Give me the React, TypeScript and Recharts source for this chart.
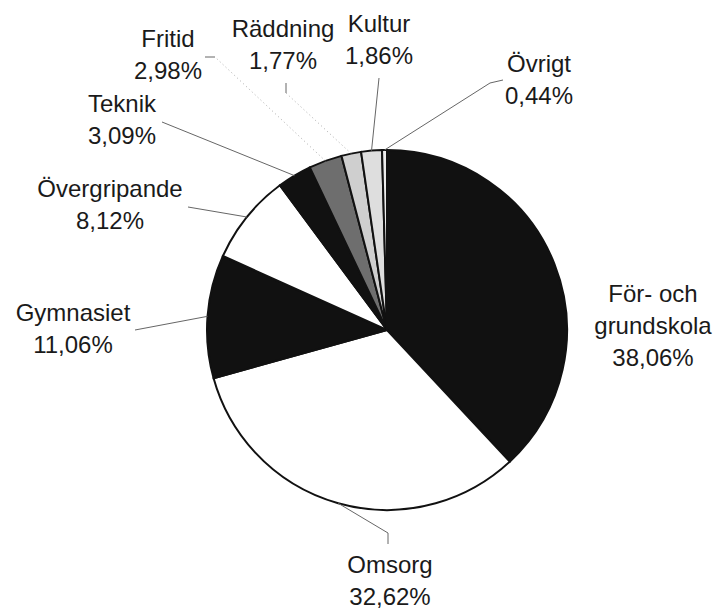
import React from 'react';
import { PieChart, Pie, Cell } from 'recharts';

const categories = [
  'För- och\ngrundskola',
  'Omsorg',
  'Gymnasiet',
  'Övergripande',
  'Teknik',
  'Fritid',
  'Räddning',
  'Kultur',
  'Övrigt',
];
const shares = [38.06, 32.62, 11.06, 8.12, 3.09, 2.98, 1.77, 1.86, 0.44];

const data = categories.map((name, i) => ({ name, value: shares[i] }));

// styling / layout
const fills = ['#111', '#fff', '#111', '#fff', '#111', '#6e6e6e', '#cfcfcf', '#dedede', '#ececec'];
const CX = 387;
const CY = 330;
const R = 180;
const FONT = 24;
const LINE_H = 32;

// label centre (first line) relative to pie centre
const labelOffsets: [number, number][] = [
  [266, -37],
  [3, 234],
  [-314, -18],
  [-277, -142],
  [-265, -227],
  [-219, -292],
  [-104, -302],
  [-8, -307],
  [152, -267],
];
// leader line bend points relative to pie centre
const leaderBends: [number, number][][] = [
  [],
  [[1, 203], [1, 214]],
  [[-252, 0]],
  [[-199, -123]],
  [[-225, -208]],
  [[-172, -273], [-182, -273]],
  [[-101, -237], [-101, -247]],
  [[-8, -252]],
  [[103, -247], [116, -250]],
];
const dottedLeader = [false, false, false, false, false, true, true, false, false];

const RAD = Math.PI / 180;

const fmt = (v: number) => v.toFixed(2).replace('.', ',') + '%';

const renderLabel = (props: any) => {
  const { cx, cy, midAngle, outerRadius, index, value, name } = props;
  const sx = cx + outerRadius * Math.cos(-midAngle * RAD);
  const sy = cy + outerRadius * Math.sin(-midAngle * RAD);
  const bends = leaderBends[index].map(([dx, dy]) => [cx + dx, cy + dy]);
  const pts = [[sx, sy], ...bends];
  const [ox, oy] = labelOffsets[index];
  const lines = [...String(name).split('\n'), fmt(value)];
  const lx = cx + ox;
  const ly = cy + oy + FONT * 0.36;

  let leader: React.ReactNode = null;
  if (pts.length > 1) {
    if (dottedLeader[index]) {
      const head = pts.slice(0, -1);
      const tail = pts.slice(-2);
      leader = (
        <g>
          <polyline points={head.map((p) => p.join(',')).join(' ')} fill="none" stroke="#aaa" strokeWidth={1} strokeDasharray="1 3" />
          <polyline points={tail.map((p) => p.join(',')).join(' ')} fill="none" stroke="#666" strokeWidth={1} />
        </g>
      );
    } else {
      leader = (
        <polyline points={pts.map((p) => p.join(',')).join(' ')} fill="none" stroke="#666" strokeWidth={1} />
      );
    }
  }

  return (
    <g>
      {leader}
      <text x={lx} y={ly} textAnchor="middle" fontFamily="'Liberation Sans', Arial, sans-serif" fontSize={FONT} fill="#1a1a1a">
        {lines.map((t, i) => (
          <tspan key={i} x={lx} dy={i === 0 ? 0 : LINE_H}>
            {t}
          </tspan>
        ))}
      </text>
    </g>
  );
};

export default function App() {
  return (
    <div style={{ position: 'absolute', left: 0, top: 0, width: 719, height: 612, background: '#fff' }}>
      <PieChart width={719} height={612} margin={{ top: 0, right: 0, bottom: 0, left: 0 }}>
        <Pie
          data={data}
          dataKey="value"
          nameKey="name"
          cx={CX}
          cy={CY}
          outerRadius={R}
          startAngle={90}
          endAngle={-270}
          stroke="#111"
          strokeWidth={2}
          label={renderLabel}
          labelLine={false}
          isAnimationActive={false}
        >
          {data.map((d, i) => (
            <Cell key={d.name} fill={fills[i]} />
          ))}
        </Pie>
      </PieChart>
    </div>
  );
}
